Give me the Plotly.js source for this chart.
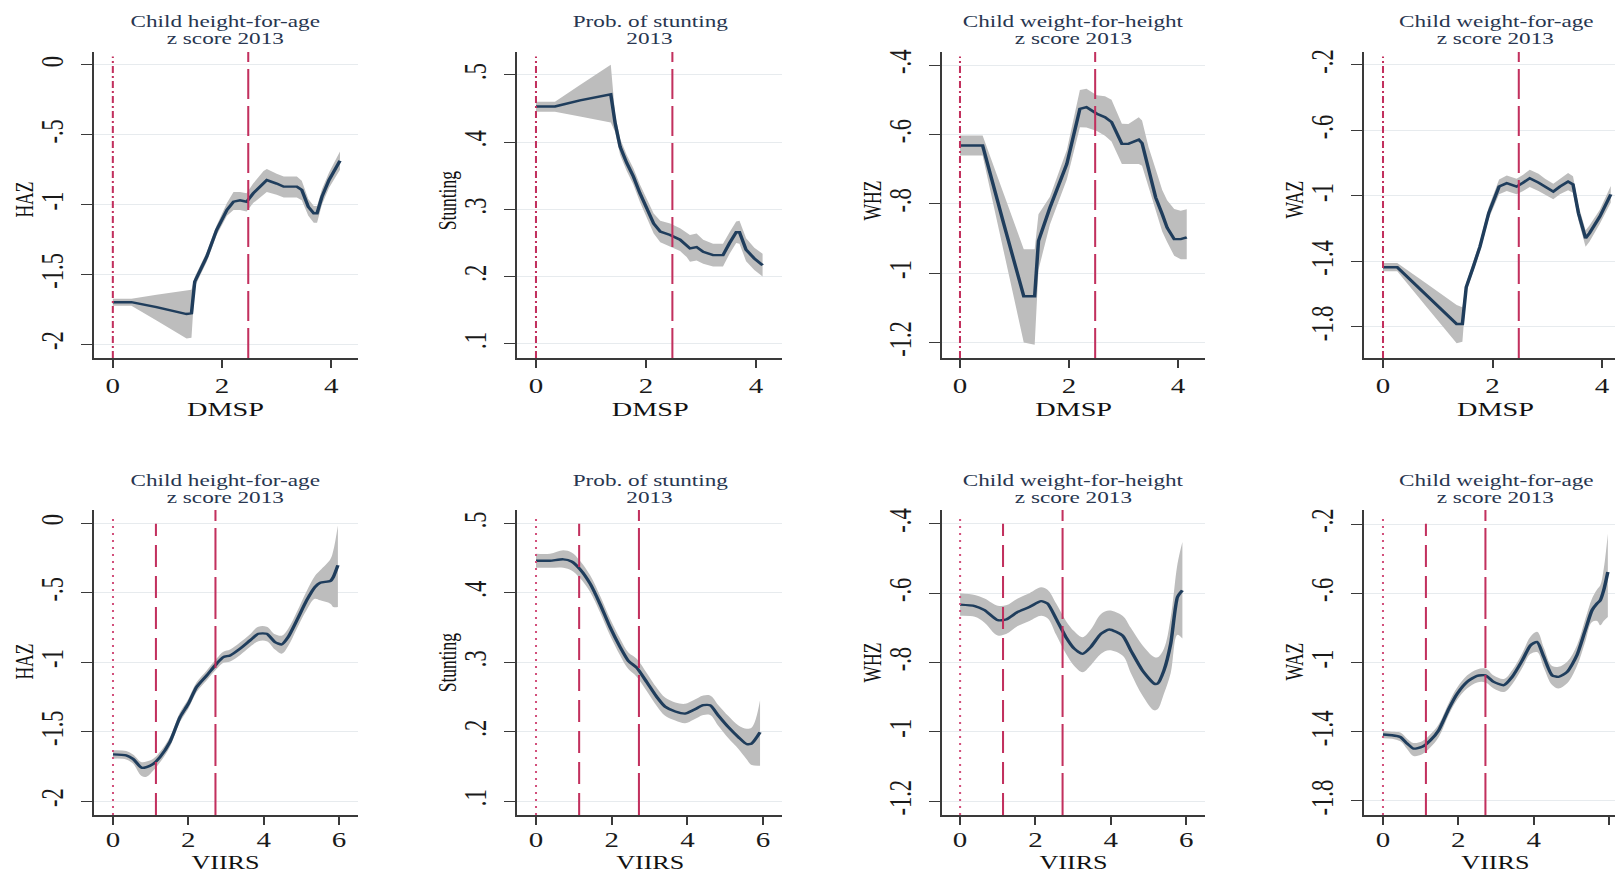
<!DOCTYPE html>
<html>
<head>
<meta charset="utf-8">
<script src="https://cdn.plot.ly/plotly-3.0.1.min.js"></script>
<style>
html,body{margin:0;padding:0;background:#fff;overflow:hidden;}
#wrap{width:1615px;height:874px;overflow:hidden;}
#plot{width:1114px;height:874px;transform:scaleX(1.449731);transform-origin:0 0;}
</style>
</head>
<body>
<div id="wrap"><div id="plot"></div></div>
<script>
// ---------- DATA ----------
// DMSP panels (top row)
const dmspHazX  = [0, 0.34, 0.8, 1.1, 1.35, 1.44, 1.50, 1.72, 1.90, 2.09, 2.21, 2.33, 2.45, 2.57, 2.76, 2.82, 3.00, 3.13, 3.37, 3.46, 3.58, 3.68, 3.74, 3.83, 3.96, 4.16];
const dmspHazY  = [-1.70, -1.70, -1.735, -1.76, -1.785, -1.78, -1.553, -1.374, -1.183, -1.039, -0.98, -0.97, -0.98, -0.92, -0.848, -0.825, -0.85, -0.872, -0.872, -0.896, -1.016, -1.063, -1.063, -0.944, -0.824, -0.686];
const dmspHazHi = [-1.675, -1.675, -1.647, -1.628, -1.613, -1.61, -1.52, -1.34, -1.15, -0.99, -0.91, -0.91, -0.92, -0.85, -0.76, -0.745, -0.78, -0.80, -0.80, -0.83, -0.96, -1.01, -1.01, -0.89, -0.77, -0.62];
const dmspHazLo = [-1.725, -1.725, -1.832, -1.90, -1.96, -1.955, -1.59, -1.41, -1.22, -1.08, -1.04, -1.04, -1.05, -0.99, -0.93, -0.91, -0.93, -0.95, -0.95, -0.97, -1.08, -1.13, -1.13, -1.00, -0.88, -0.75];

const dmspStuX  = [0, 0.345, 0.8, 1.1, 1.315, 1.36, 1.44, 1.53, 1.65, 1.77, 1.89, 2.02, 2.14, 2.26, 2.44, 2.62, 2.74, 2.80, 2.92, 3.04, 3.22, 3.40, 3.52, 3.64, 3.70, 3.82, 3.97, 4.12];
const dmspStuY  = [0.453, 0.453, 0.462, 0.467, 0.471, 0.471, 0.428, 0.393, 0.369, 0.349, 0.324, 0.299, 0.279, 0.267, 0.262, 0.255, 0.247, 0.242, 0.244, 0.237, 0.232, 0.232, 0.250, 0.266, 0.266, 0.240, 0.227, 0.217];
const dmspStuHi = [0.460, 0.460, 0.485, 0.501, 0.513, 0.515, 0.440, 0.405, 0.381, 0.361, 0.337, 0.313, 0.294, 0.283, 0.279, 0.272, 0.265, 0.262, 0.264, 0.255, 0.249, 0.249, 0.266, 0.282, 0.283, 0.257, 0.243, 0.234];
const dmspStuLo = [0.445, 0.445, 0.438, 0.433, 0.430, 0.429, 0.415, 0.381, 0.357, 0.337, 0.311, 0.285, 0.264, 0.251, 0.245, 0.238, 0.229, 0.222, 0.224, 0.219, 0.215, 0.215, 0.234, 0.250, 0.249, 0.223, 0.210, 0.200];

const dmspWhzX  = [0, 0.415, 0.8, 1.17, 1.37, 1.44, 1.65, 1.96, 2.20, 2.32, 2.51, 2.66, 2.78, 2.97, 3.09, 3.28, 3.34, 3.46, 3.59, 3.71, 3.80, 3.93, 4.05, 4.16];
const dmspWhzY  = [-0.632, -0.632, -0.856, -1.067, -1.067, -0.907, -0.811, -0.685, -0.526, -0.521, -0.54, -0.55, -0.564, -0.627, -0.627, -0.615, -0.625, -0.695, -0.782, -0.83, -0.869, -0.902, -0.902, -0.897];
const dmspWhzHi = [-0.603, -0.603, -0.77, -0.931, -0.931, -0.83, -0.78, -0.645, -0.472, -0.468, -0.487, -0.49, -0.50, -0.569, -0.57, -0.55, -0.56, -0.637, -0.70, -0.76, -0.79, -0.815, -0.82, -0.816];
const dmspWhzLo = [-0.661, -0.661, -0.936, -1.20, -1.207, -0.99, -0.86, -0.73, -0.579, -0.58, -0.59, -0.604, -0.62, -0.685, -0.685, -0.685, -0.69, -0.75, -0.81, -0.88, -0.91, -0.95, -0.96, -0.96];

const dmspWazX  = [0, 0.26, 0.8, 1.1, 1.345, 1.45, 1.52, 1.65, 1.77, 1.93, 2.02, 2.12, 2.26, 2.44, 2.56, 2.68, 2.84, 2.96, 3.11, 3.23, 3.38, 3.47, 3.57, 3.70, 3.77, 3.96, 4.16];
const dmspWazY  = [-1.436, -1.436, -1.608, -1.704, -1.782, -1.782, -1.557, -1.432, -1.31, -1.106, -1.024, -0.943, -0.922, -0.943, -0.919, -0.892, -0.919, -0.943, -0.974, -0.943, -0.913, -0.93, -1.106, -1.258, -1.228, -1.126, -0.99];
const dmspWazHi = [-1.41, -1.41, -1.537, -1.608, -1.666, -1.68, -1.53, -1.40, -1.28, -1.07, -0.985, -0.90, -0.875, -0.895, -0.87, -0.84, -0.865, -0.895, -0.925, -0.895, -0.86, -0.88, -1.06, -1.21, -1.18, -1.085, -0.94];
const dmspWazLo = [-1.46, -1.46, -1.68, -1.80, -1.90, -1.89, -1.585, -1.46, -1.34, -1.14, -1.065, -0.99, -0.97, -0.99, -0.97, -0.945, -0.97, -0.99, -1.02, -0.99, -0.965, -0.98, -1.15, -1.31, -1.28, -1.17, -1.04];

// VIIRS panels (bottom row)
const viirsHazX  = [0, 0.35, 0.53, 0.76, 0.89, 1.07, 1.25, 1.51, 1.78, 2.0, 2.22, 2.49, 2.75, 2.93, 3.11, 3.37, 3.64, 3.86, 4.08, 4.30, 4.48, 4.65, 4.88, 5.14, 5.36, 5.5, 5.77, 5.85, 5.97];
const viirsHazY  = [-1.664, -1.671, -1.696, -1.76, -1.755, -1.732, -1.683, -1.576, -1.396, -1.30, -1.18, -1.096, -1.012, -0.964, -0.952, -0.904, -0.844, -0.796, -0.796, -0.856, -0.873, -0.82, -0.70, -0.556, -0.46, -0.429, -0.417, -0.388, -0.304];
const viirsHazHi = [-1.635, -1.64, -1.665, -1.72, -1.715, -1.695, -1.645, -1.54, -1.36, -1.265, -1.145, -1.06, -0.975, -0.925, -0.91, -0.86, -0.80, -0.745, -0.745, -0.80, -0.81, -0.76, -0.64, -0.49, -0.38, -0.34, -0.26, -0.196, -0.017];
const viirsHazLo = [-1.695, -1.70, -1.73, -1.82, -1.825, -1.78, -1.72, -1.61, -1.43, -1.335, -1.215, -1.13, -1.05, -1.005, -0.995, -0.95, -0.89, -0.85, -0.85, -0.91, -0.94, -0.885, -0.76, -0.625, -0.545, -0.556, -0.58, -0.604, -0.604];

const viirsStuX  = [0, 0.37, 0.72, 0.94, 1.16, 1.43, 1.69, 1.96, 2.22, 2.44, 2.66, 2.93, 3.19, 3.41, 3.68, 3.94, 4.16, 4.42, 4.60, 4.82, 5.09, 5.35, 5.57, 5.70, 5.92];
const viirsStuY  = [0.446, 0.446, 0.448, 0.445, 0.434, 0.413, 0.384, 0.35, 0.322, 0.302, 0.292, 0.271, 0.25, 0.236, 0.229, 0.226, 0.231, 0.238, 0.238, 0.223, 0.206, 0.192, 0.182, 0.183, 0.199];
const viirsStuHi = [0.456, 0.456, 0.461, 0.458, 0.446, 0.425, 0.396, 0.362, 0.334, 0.314, 0.305, 0.284, 0.263, 0.249, 0.242, 0.24, 0.245, 0.252, 0.252, 0.238, 0.222, 0.209, 0.204, 0.206, 0.245];
const viirsStuLo = [0.436, 0.436, 0.436, 0.432, 0.421, 0.401, 0.372, 0.338, 0.31, 0.29, 0.279, 0.258, 0.237, 0.223, 0.216, 0.212, 0.217, 0.224, 0.224, 0.208, 0.19, 0.175, 0.16, 0.152, 0.151];

const viirsWhzX  = [0, 0.39, 0.65, 1.0, 1.22, 1.53, 1.84, 2.15, 2.32, 2.55, 2.81, 3.03, 3.25, 3.47, 3.74, 3.96, 4.31, 4.53, 4.84, 5.15, 5.24, 5.41, 5.59, 5.77, 5.9];
const viirsWhzY  = [-0.633, -0.637, -0.649, -0.678, -0.676, -0.654, -0.64, -0.623, -0.63, -0.674, -0.727, -0.76, -0.775, -0.755, -0.717, -0.705, -0.722, -0.765, -0.823, -0.861, -0.861, -0.823, -0.746, -0.611, -0.592];
const viirsWhzHi = [-0.60, -0.605, -0.615, -0.636, -0.635, -0.615, -0.60, -0.583, -0.59, -0.63, -0.68, -0.71, -0.727, -0.705, -0.66, -0.65, -0.665, -0.70, -0.75, -0.784, -0.785, -0.76, -0.67, -0.515, -0.452];
const viirsWhzLo = [-0.665, -0.668, -0.685, -0.722, -0.718, -0.695, -0.68, -0.665, -0.672, -0.72, -0.775, -0.81, -0.828, -0.808, -0.775, -0.765, -0.78, -0.83, -0.895, -0.938, -0.935, -0.89, -0.83, -0.72, -0.731];

const viirsWazX  = [0, 0.24, 0.46, 0.64, 0.81, 1.04, 1.26, 1.48, 1.75, 1.97, 2.23, 2.50, 2.72, 2.94, 3.21, 3.43, 3.70, 3.92, 4.09, 4.27, 4.49, 4.66, 4.89, 5.15, 5.37, 5.55, 5.68, 5.77, 5.86, 5.97];
const viirsWazY  = [-1.416, -1.42, -1.43, -1.468, -1.497, -1.487, -1.449, -1.391, -1.266, -1.18, -1.112, -1.077, -1.074, -1.112, -1.131, -1.083, -0.987, -0.90, -0.881, -0.968, -1.074, -1.083, -1.054, -0.958, -0.814, -0.698, -0.66, -0.64, -0.583, -0.477];
const viirsWazHi = [-1.395, -1.40, -1.405, -1.44, -1.465, -1.455, -1.415, -1.357, -1.232, -1.145, -1.075, -1.04, -1.035, -1.075, -1.095, -1.045, -0.945, -0.85, -0.823, -0.915, -1.02, -1.025, -0.995, -0.90, -0.75, -0.63, -0.58, -0.554, -0.46, -0.256];
const viirsWazLo = [-1.437, -1.44, -1.455, -1.50, -1.54, -1.53, -1.49, -1.43, -1.30, -1.215, -1.15, -1.115, -1.115, -1.15, -1.17, -1.125, -1.03, -0.95, -0.94, -1.03, -1.13, -1.15, -1.12, -1.02, -0.88, -0.766, -0.76, -0.785, -0.76, -0.737];

// Titles and labels
const titleLine1 = ["Child height-for-age", "Prob. of stunting", "Child weight-for-height", "Child weight-for-age"];
const titleLine2 = ["z score 2013", "2013", "z score 2013", "z score 2013"];
const yTitles = ["HAZ", "Stunting", "WHZ", "WAZ"];
const xTitles = ["DMSP", "VIIRS"];
const dmspCutoffs = [0, 2.48];
const viirsCutoffs = [0, 1.14, 2.72];
const xTicksTop = [0, 2, 4];
const xTicksBottom = [0, 2, 4, 6];
const yTickVals = [[0, -0.5, -1, -1.5, -2], [0.5, 0.4, 0.3, 0.2, 0.1], [-0.4, -0.6, -0.8, -1, -1.2], [-0.2, -0.6, -1, -1.4, -1.8]];
const yTickText = [["0", "-.5", "-1", "-1.5", "-2"], [".5", ".4", ".3", ".2", ".1"], ["-.4", "-.6", "-.8", "-1", "-1.2"], ["-.2", "-.6", "-1", "-1.4", "-1.8"]];

// ---------- LAYOUT GEOMETRY ----------
const FW = 1615, FH = 874;          // final picture size
const colPx = [[94, 358], [517, 782], [942, 1205], [1364, 1615]];
const colCenter = [226, 649.5, 1073.5, 1496];
const rowPx = [[52, 358], [510, 815]];
const xRanges = [
  [[-0.345, 4.49], [-0.345, 4.473], [-0.33, 4.495], [-0.347, 4.237]],
  [[-0.504, 6.504], [-0.502, 6.50], [-0.48, 6.50], [-0.504, 6.16]]
];
const yRanges = [
  [[-2.1, 0.093], [0.079, 0.534], [-1.245, -0.362], [-1.99, -0.121]],
  [[-2.1, 0.094], [0.08, 0.519], [-1.24, -0.36], [-1.881, -0.119]]
];

const panels = [
  [dmspHazX, dmspHazY, dmspHazLo, dmspHazHi],
  [dmspStuX, dmspStuY, dmspStuLo, dmspStuHi],
  [dmspWhzX, dmspWhzY, dmspWhzLo, dmspWhzHi],
  [dmspWazX, dmspWazY, dmspWazLo, dmspWazHi],
  [viirsHazX, viirsHazY, viirsHazLo, viirsHazHi],
  [viirsStuX, viirsStuY, viirsStuLo, viirsStuHi],
  [viirsWhzX, viirsWhzY, viirsWhzLo, viirsWhzHi],
  [viirsWazX, viirsWazY, viirsWazLo, viirsWazHi]
];

const SERIF = "Liberation Serif, Times New Roman, serif";
const lineColor = "#1f3d5c";
const bandColor = "#bdbdbd";
const refColor = "#c2305e";
const dotColor = "#d2507c";
const axisColor = "#3a3a3a";

const traces = [];
const layout = {
  width: 1114, height: 874,
  margin: {l: 0, r: 0, t: 0, b: 0, autoexpand: false},
  paper_bgcolor: "#fff", plot_bgcolor: "#fff",
  showlegend: false,
  shapes: [], annotations: []
};

panels.forEach((p, i) => {
  const row = i < 4 ? 0 : 1;
  const col = i % 4;
  const n = i + 1;
  const xa = n === 1 ? "x" : "x" + n;
  const ya = n === 1 ? "y" : "y" + n;
  const smooth = row === 1 ? "spline" : "linear";
  traces.push({x: p[0], y: p[2], xaxis: xa, yaxis: ya, mode: "lines", line: {width: 0, color: bandColor, shape: smooth}, hoverinfo: "skip"});
  traces.push({x: p[0], y: p[3], xaxis: xa, yaxis: ya, mode: "lines", fill: "tonexty", fillcolor: bandColor, line: {width: 0, color: bandColor, shape: smooth}, hoverinfo: "skip"});
  traces.push({x: p[0], y: p[1], xaxis: xa, yaxis: ya, mode: "lines", line: {width: 2.4, color: lineColor, shape: smooth, smoothing: 0.6}});

  const xk = n === 1 ? "xaxis" : "xaxis" + n;
  const yk = n === 1 ? "yaxis" : "yaxis" + n;
  const xdom = [colPx[col][0] / FW, colPx[col][1] / FW];
  const ydom = [1 - rowPx[row][1] / FH, 1 - rowPx[row][0] / FH];
  const xt = row === 0 ? xTicksTop : xTicksBottom;
  layout[xk] = {
    domain: xdom, anchor: ya, range: xRanges[row][col], fixedrange: true,
    showline: true, linecolor: axisColor, linewidth: 1.5, mirror: false,
    ticks: "outside", ticklen: 8, tickwidth: 1.4, tickcolor: axisColor,
    tickvals: xt, ticktext: xt.map(String), showgrid: false, zeroline: false,
    ticklabelstandoff: row === 0 ? 2 : -1,
    tickfont: {family: SERIF, size: 20, color: "#1a1a1a"}
  };
  layout[yk] = {
    domain: ydom, anchor: xa, range: yRanges[row][col], fixedrange: true,
    showline: true, linecolor: axisColor, linewidth: 1.1, mirror: false,
    ticks: "outside", ticklen: 8, tickwidth: 1.0, tickcolor: axisColor,
    tickvals: yTickVals[col], ticktext: yTickText[col], tickangle: -90,
    showgrid: true, gridcolor: "#e7ebee", gridwidth: 1, zeroline: false,
    ticklabelstandoff: 3,
    tickfont: {family: SERIF, size: 22.5, color: "#1a1a1a"}
  };

  // reference lines
  const cuts = row === 0 ? dmspCutoffs : viirsCutoffs;
  const dashes = row === 0 ? ["7px,3px,2px,3px", "30px,7px"] : ["2px,5px", "22px,9px", "42px,7px"];
  const tops = row === 0 ? [0.985, 1] : [0.985, 0.955, 1];
  cuts.forEach((c, k) => {
    layout.shapes.push({type: "line", xref: xa, yref: ya + " domain", x0: c, x1: c, y0: 0, y1: tops[k],
      layer: "above", line: {color: (row === 1 && k === 0) ? dotColor : refColor, width: 1.4, dash: dashes[k]}});
  });

  // titles (two lines)
  const cx = colCenter[col] / FW;
  const l1 = row === 0 ? 21.5 : 480.8;
  const l2 = row === 0 ? 38.1 : 497.5;
  layout.annotations.push({xref: "paper", yref: "paper", x: cx, y: 1 - l1 / FH, text: titleLine1[col], showarrow: false,
    xanchor: "center", yanchor: "middle", font: {family: SERIF, size: 16, color: "#283650"}});
  layout.annotations.push({xref: "paper", yref: "paper", x: cx, y: 1 - l2 / FH, text: titleLine2[col], showarrow: false,
    xanchor: "center", yanchor: "middle", font: {family: SERIF, size: 16, color: "#283650"}});
  // x axis title
  layout.annotations.push({xref: "paper", yref: "paper", x: cx, y: 1 - (row === 0 ? 409.5 : 863) / FH, text: xTitles[row], showarrow: false,
    xanchor: "center", yanchor: "middle", font: {family: SERIF, size: row === 0 ? 19.5 : 18, color: "#111"}});
  // y axis title
  layout.annotations.push({xref: "paper", yref: "paper", x: (colPx[col][0] - 70) / FW, y: 1 - (row === 0 ? 200 : 662) / FH, text: yTitles[col], showarrow: false,
    textangle: -90, xanchor: "center", yanchor: "middle", font: {family: SERIF, size: 17.5, color: "#111"}});
});

Plotly.newPlot("plot", traces, layout, {displayModeBar: false, staticPlot: true});
</script>
</body>
</html>
